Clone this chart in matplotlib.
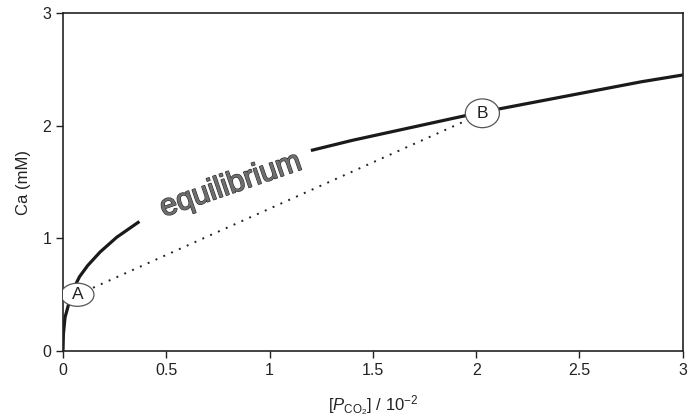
import numpy as np
import matplotlib.pyplot as plt
import matplotlib.patheffects as pe
from matplotlib.patches import Ellipse

plt.rcParams['font.family'] = ['Liberation Sans', 'DejaVu Sans']
plt.rcParams['mathtext.fontset'] = 'custom'
plt.rcParams['mathtext.rm'] = 'Liberation Sans'
plt.rcParams['mathtext.it'] = 'Liberation Sans:italic'

# equilibrium curve (gap where the label sits)
x_low = [0, 0.002, 0.01, 0.025, 0.05, 0.08, 0.12, 0.18, 0.26, 0.37]
ca_low = [0, 0.15, 0.30, 0.40, 0.55, 0.66, 0.76, 0.88, 1.01, 1.15]
x_high = [1.2, 1.4, 1.6, 1.8, 2.0, 2.2, 2.4, 2.6, 2.8, 3.0]
ca_high = [1.78, 1.87, 1.95, 2.03, 2.11, 2.18, 2.25, 2.32, 2.39, 2.45]

# points A and B
pt_names = ['A', 'B']
pt_x = [0.07, 2.03]
pt_y = [0.50, 2.11]

fig = plt.figure(figsize=(6.89, 4.19), dpi=100)
ax = fig.add_axes([0.0914, 0.162, 0.8996, 0.807])

ax.plot(x_low, ca_low, color='#1a1a1a', lw=2.3, solid_capstyle='butt')
ax.plot(x_high, ca_high, color='#1a1a1a', lw=2.3, solid_capstyle='butt')
ax.plot(pt_x, pt_y, color='#222222', lw=1.4, linestyle=(0, (1, 3.4)))

# ellipse sizes in data units (A is flatter than B)
for name, px, py, w, h in zip(pt_names, pt_x, pt_y, [0.16, 0.165], [0.205, 0.255]):
    ax.add_patch(Ellipse((px, py), w, h, fc='white', ec='#555555', lw=0.9, zorder=4))
    ax.text(px, py, name, ha='center', va='center', fontsize=12.5, color='#222222', zorder=5)

t = ax.text(0.81, 1.47, 'equilibrium', ha='center', va='center', rotation=19,
            fontsize=22, color='#6e6e6e', rotation_mode='anchor')
t.set_path_effects([pe.withStroke(linewidth=1.1, foreground='#2a2a2a'), pe.Normal()])

ax.set_xlim(0, 3)
ax.set_ylim(0, 3)
ax.set_xticks([0, 0.5, 1, 1.5, 2, 2.5, 3])
ax.set_xticklabels(['0', '0.5', '1', '1.5', '2', '2.5', '3'])
ax.set_yticks([0, 1, 2, 3])
ax.tick_params(direction='out', length=5, width=1, labelsize=11.5, colors='#222222')
for s in ax.spines.values():
    s.set_linewidth(1.2)
    s.set_color('#222222')

ax.set_xlabel(r'[$\mathit{P}_{\mathrm{CO_2}}$] / 10$^{-2}$', fontsize=12, color='#222222', labelpad=11)
ax.set_ylabel('Ca (mM)', fontsize=12, color='#222222', labelpad=8)

fig.savefig('out.png', dpi=100)
